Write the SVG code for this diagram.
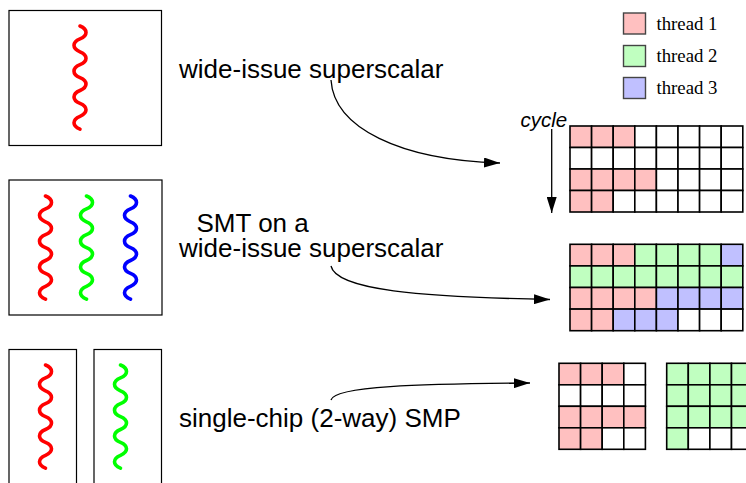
<svg xmlns="http://www.w3.org/2000/svg" width="746" height="483" viewBox="0 0 746 483">
  <defs>
    <marker id="arrow" viewBox="0 0 16 10" markerWidth="16" markerHeight="10" refX="16" refY="5" orient="auto" markerUnits="userSpaceOnUse">
      <path d="M0,0 L16,5 L0,10 Z" fill="#000"/>
    </marker>
    <!-- one wiggly thread: 8 half-waves, 12.9px each -->
    <path id="wiggle" d="M0,0 c8,3.2 8,9.7 0,12.9 c-8,3.2 -8,9.7 0,12.9 c8,3.2 8,9.7 0,12.9 c-8,3.2 -8,9.7 0,12.9 c8,3.2 8,9.7 0,12.9 c-8,3.2 -8,9.7 0,12.9 c8,3.2 8,9.7 0,12.9 c-8,3.2 -8,9.7 0,12.9"/>
  </defs>
  <style>
    .frame { fill: none; stroke: #000; stroke-width: 1.2; }
    .thread { fill: none; stroke-width: 3.6; stroke-linecap: round; }
    .label { font-family: "Liberation Sans", Arial, sans-serif; font-size: 26px; fill: #000; }
    .legend { font-family: "Liberation Serif", "Times New Roman", serif; font-size: 18.8px; fill: #000; }
    .cycle { font-family: "Liberation Sans", Arial, sans-serif; font-size: 20.5px; font-style: italic; fill: #000; }
    .cell { stroke: #000; stroke-width: 1.6; }
    .w { fill: #fff; }
    .t1 { fill: #ffc0c0; }
    .t2 { fill: #c0ffc0; }
    .t3 { fill: #c0c0ff; }
    .key { stroke: #444; stroke-width: 1.4; }
    .conn { fill: none; stroke: #000; stroke-width: 1.3; }
  </style>

  <!-- legend -->
  <g id="legend">
    <rect class="key t1" x="623.5" y="13" width="22" height="21"/>
    <rect class="key t2" x="623.5" y="45.5" width="22" height="21"/>
    <rect class="key t3" x="623.5" y="77.5" width="22" height="21"/>
    <text class="legend" x="656.5" y="29.5">thread 1</text>
    <text class="legend" x="656.5" y="61.5">thread 2</text>
    <text class="legend" x="656.5" y="93.5">thread 3</text>
  </g>

  <!-- single-thread processor -->
  <g id="superscalar-proc">
    <rect class="frame" x="9" y="10.5" width="152.5" height="135"/>
    <use href="#wiggle" x="80" y="26" class="thread" stroke="#f00"/>
  </g>
  <g id="superscalar-label">
    <text class="label" x="179" y="78">wide-issue superscalar</text>
  </g>

  <!-- SMT processor -->
  <g id="smt-proc">
    <rect class="frame" x="9" y="180" width="153" height="135"/>
    <use href="#wiggle" x="45.5" y="196" class="thread" stroke="#f00"/>
    <use href="#wiggle" x="86.5" y="196" class="thread" stroke="#0f0"/>
    <use href="#wiggle" x="130.5" y="196" class="thread" stroke="#00f"/>
  </g>
  <g id="smt-label">
    <text class="label" x="196.5" y="232">SMT on a</text>
    <text class="label" x="179" y="257">wide-issue superscalar</text>
  </g>

  <!-- two-way chip multiprocessor -->
  <g id="smp-proc">
    <rect class="frame" x="9" y="349.5" width="67.5" height="150"/>
    <rect class="frame" x="94" y="349.5" width="67.5" height="150"/>
    <use href="#wiggle" x="45.5" y="365" class="thread" stroke="#f00"/>
    <use href="#wiggle" x="120.5" y="365" class="thread" stroke="#0f0"/>
  </g>
  <g id="smp-label">
    <text class="label" x="179" y="426.5">single-chip (2-way) SMP</text>
  </g>

  <!-- issue slots: superscalar (8 wide x 4 cycles) -->
  <g id="grid-superscalar" class="cell">
    <rect class="t1" x="570" y="126" width="21.6" height="21.5"/>
    <rect class="t1" x="591.6" y="126" width="21.6" height="21.5"/>
    <rect class="t1" x="613.2" y="126" width="21.6" height="21.5"/>
    <rect class="w" x="634.8" y="126" width="21.6" height="21.5"/>
    <rect class="w" x="656.4" y="126" width="21.6" height="21.5"/>
    <rect class="w" x="678" y="126" width="21.6" height="21.5"/>
    <rect class="w" x="699.6" y="126" width="21.6" height="21.5"/>
    <rect class="w" x="721.2" y="126" width="21.6" height="21.5"/>

    <rect class="w" x="570" y="147.5" width="21.6" height="21.5"/>
    <rect class="w" x="591.6" y="147.5" width="21.6" height="21.5"/>
    <rect class="w" x="613.2" y="147.5" width="21.6" height="21.5"/>
    <rect class="w" x="634.8" y="147.5" width="21.6" height="21.5"/>
    <rect class="w" x="656.4" y="147.5" width="21.6" height="21.5"/>
    <rect class="w" x="678" y="147.5" width="21.6" height="21.5"/>
    <rect class="w" x="699.6" y="147.5" width="21.6" height="21.5"/>
    <rect class="w" x="721.2" y="147.5" width="21.6" height="21.5"/>

    <rect class="t1" x="570" y="169" width="21.6" height="21.5"/>
    <rect class="t1" x="591.6" y="169" width="21.6" height="21.5"/>
    <rect class="t1" x="613.2" y="169" width="21.6" height="21.5"/>
    <rect class="t1" x="634.8" y="169" width="21.6" height="21.5"/>
    <rect class="w" x="656.4" y="169" width="21.6" height="21.5"/>
    <rect class="w" x="678" y="169" width="21.6" height="21.5"/>
    <rect class="w" x="699.6" y="169" width="21.6" height="21.5"/>
    <rect class="w" x="721.2" y="169" width="21.6" height="21.5"/>

    <rect class="t1" x="570" y="190.5" width="21.6" height="21.5"/>
    <rect class="t1" x="591.6" y="190.5" width="21.6" height="21.5"/>
    <rect class="w" x="613.2" y="190.5" width="21.6" height="21.5"/>
    <rect class="w" x="634.8" y="190.5" width="21.6" height="21.5"/>
    <rect class="w" x="656.4" y="190.5" width="21.6" height="21.5"/>
    <rect class="w" x="678" y="190.5" width="21.6" height="21.5"/>
    <rect class="w" x="699.6" y="190.5" width="21.6" height="21.5"/>
    <rect class="w" x="721.2" y="190.5" width="21.6" height="21.5"/>
  </g>

  <!-- issue slots: SMT -->
  <g id="grid-smt" class="cell">
    <rect class="t1" x="570" y="244.3" width="21.6" height="21.6"/>
    <rect class="t1" x="591.6" y="244.3" width="21.6" height="21.6"/>
    <rect class="t1" x="613.2" y="244.3" width="21.6" height="21.6"/>
    <rect class="t2" x="634.8" y="244.3" width="21.6" height="21.6"/>
    <rect class="t2" x="656.4" y="244.3" width="21.6" height="21.6"/>
    <rect class="t2" x="678" y="244.3" width="21.6" height="21.6"/>
    <rect class="t2" x="699.6" y="244.3" width="21.6" height="21.6"/>
    <rect class="t3" x="721.2" y="244.3" width="21.6" height="21.6"/>

    <rect class="t2" x="570" y="265.9" width="21.6" height="21.6"/>
    <rect class="t2" x="591.6" y="265.9" width="21.6" height="21.6"/>
    <rect class="t2" x="613.2" y="265.9" width="21.6" height="21.6"/>
    <rect class="t2" x="634.8" y="265.9" width="21.6" height="21.6"/>
    <rect class="t2" x="656.4" y="265.9" width="21.6" height="21.6"/>
    <rect class="t2" x="678" y="265.9" width="21.6" height="21.6"/>
    <rect class="t2" x="699.6" y="265.9" width="21.6" height="21.6"/>
    <rect class="t2" x="721.2" y="265.9" width="21.6" height="21.6"/>

    <rect class="t1" x="570" y="287.5" width="21.6" height="21.6"/>
    <rect class="t1" x="591.6" y="287.5" width="21.6" height="21.6"/>
    <rect class="t1" x="613.2" y="287.5" width="21.6" height="21.6"/>
    <rect class="t1" x="634.8" y="287.5" width="21.6" height="21.6"/>
    <rect class="t3" x="656.4" y="287.5" width="21.6" height="21.6"/>
    <rect class="t3" x="678" y="287.5" width="21.6" height="21.6"/>
    <rect class="t3" x="699.6" y="287.5" width="21.6" height="21.6"/>
    <rect class="t3" x="721.2" y="287.5" width="21.6" height="21.6"/>

    <rect class="t1" x="570" y="309.1" width="21.6" height="21.6"/>
    <rect class="t1" x="591.6" y="309.1" width="21.6" height="21.6"/>
    <rect class="t3" x="613.2" y="309.1" width="21.6" height="21.6"/>
    <rect class="t3" x="634.8" y="309.1" width="21.6" height="21.6"/>
    <rect class="t3" x="656.4" y="309.1" width="21.6" height="21.6"/>
    <rect class="w" x="678" y="309.1" width="21.6" height="21.6"/>
    <rect class="w" x="699.6" y="309.1" width="21.6" height="21.6"/>
    <rect class="w" x="721.2" y="309.1" width="21.6" height="21.6"/>
  </g>

  <!-- issue slots: SMP, processor 1 -->
  <g id="grid-smp-1" class="cell">
    <rect class="t1" x="559" y="363.3" width="21.6" height="21.5"/>
    <rect class="t1" x="580.6" y="363.3" width="21.6" height="21.5"/>
    <rect class="t1" x="602.2" y="363.3" width="21.6" height="21.5"/>
    <rect class="w" x="623.8" y="363.3" width="21.6" height="21.5"/>

    <rect class="w" x="559" y="384.8" width="21.6" height="21.5"/>
    <rect class="w" x="580.6" y="384.8" width="21.6" height="21.5"/>
    <rect class="w" x="602.2" y="384.8" width="21.6" height="21.5"/>
    <rect class="w" x="623.8" y="384.8" width="21.6" height="21.5"/>

    <rect class="t1" x="559" y="406.3" width="21.6" height="21.5"/>
    <rect class="t1" x="580.6" y="406.3" width="21.6" height="21.5"/>
    <rect class="t1" x="602.2" y="406.3" width="21.6" height="21.5"/>
    <rect class="t1" x="623.8" y="406.3" width="21.6" height="21.5"/>

    <rect class="t1" x="559" y="427.8" width="21.6" height="21.5"/>
    <rect class="t1" x="580.6" y="427.8" width="21.6" height="21.5"/>
    <rect class="w" x="602.2" y="427.8" width="21.6" height="21.5"/>
    <rect class="w" x="623.8" y="427.8" width="21.6" height="21.5"/>
  </g>

  <!-- issue slots: SMP, processor 2 -->
  <g id="grid-smp-2" class="cell">
    <rect class="t2" x="666.7" y="363.3" width="21.6" height="21.5"/>
    <rect class="t2" x="688.3" y="363.3" width="21.6" height="21.5"/>
    <rect class="t2" x="709.9" y="363.3" width="21.6" height="21.5"/>
    <rect class="t2" x="731.5" y="363.3" width="21.6" height="21.5"/>

    <rect class="t2" x="666.7" y="384.8" width="21.6" height="21.5"/>
    <rect class="t2" x="688.3" y="384.8" width="21.6" height="21.5"/>
    <rect class="t2" x="709.9" y="384.8" width="21.6" height="21.5"/>
    <rect class="t2" x="731.5" y="384.8" width="21.6" height="21.5"/>

    <rect class="t2" x="666.7" y="406.3" width="21.6" height="21.5"/>
    <rect class="t2" x="688.3" y="406.3" width="21.6" height="21.5"/>
    <rect class="t2" x="709.9" y="406.3" width="21.6" height="21.5"/>
    <rect class="t2" x="731.5" y="406.3" width="21.6" height="21.5"/>

    <rect class="t2" x="666.7" y="427.8" width="21.6" height="21.5"/>
    <rect class="w" x="688.3" y="427.8" width="21.6" height="21.5"/>
    <rect class="w" x="709.9" y="427.8" width="21.6" height="21.5"/>
    <rect class="w" x="731.5" y="427.8" width="21.6" height="21.5"/>
  </g>

  <!-- time axis -->
  <g id="cycle-axis">
    <text class="cycle" x="520.5" y="126.5">cycle</text>
  </g>

  <!-- connectors -->
  <g id="connectors">
    <path class="conn" d="M551.7,129 L551.7,213" marker-end="url(#arrow)"/>
    <path class="conn" d="M331,80 C334,128 400,160 500,163" marker-end="url(#arrow)"/>
    <path class="conn" d="M331,266 C336,290 420,297 550,299.5" marker-end="url(#arrow)"/>
    <path class="conn" d="M331,400 C334,386 420,384 530,383" marker-end="url(#arrow)"/>
  </g>
</svg>
